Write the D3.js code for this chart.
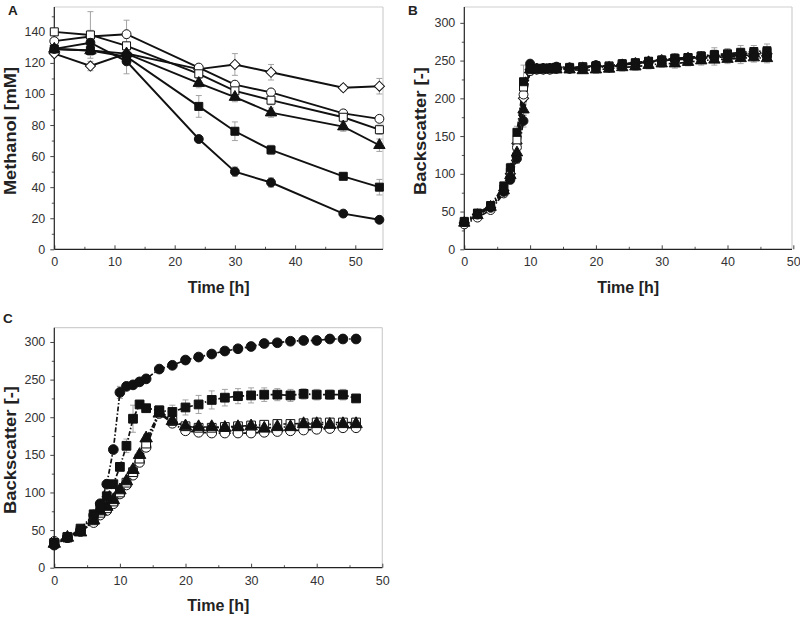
<!DOCTYPE html>
<html><head><meta charset="utf-8">
<script src="https://cdn.jsdelivr.net/npm/d3@7"></script>
<style>body{margin:0;background:#fff}svg{font-family:"Liberation Sans",Arial,sans-serif}</style>
</head><body>
<svg id="chart" width="800" height="618"></svg>
<script>
// ---------- Panel A : methanol ----------
const timeA = [0, 6, 12, 24, 30, 36, 48, 54];
const aOpenDiamond   = [126, 118, 126, 116, 119, 114, 104, 105];
const aOpenCircle    = [134, 137, 138.5, 117, 106, 101, 87.5, 84];
const aOpenSquare    = [140, 138, 131, 113, 102, 96, 85, 77];
const aFilledTriangle= [129, 128, 126, 107, 98, 88, 79, 67];
const aFilledSquare  = [129, 128, 124, 92, 76, 64, 47, 40];
const aFilledCircle  = [129, 133, 121, 71, 50, 43, 23, 19];
const errAOpenDiamond   = [2, 3, 3, 2, 7, 5, 2, 5];
const errAOpenCircle    = [2, 4, 9, 2, 2, 2, 2, 2];
const errAOpenSquare    = [2, 15, 5, 3, 3, 3, 3, 3];
const errAFilledTriangle= [2, 3, 3, 3, 3, 3, 3, 4];
const errAFilledSquare  = [2, 3, 4, 7, 6, 3, 2, 5];
const errAFilledCircle  = [2, 3, 8, 2, 3, 3, 2, 1.5];

// ---------- Panel B : backscatter ----------
const timeB = [0,2,4,6,7,8,9,10,11,12,13,14,16,18,20,22,24,26,28,30,32,34,36,38,40,42,44,46];
const bOpenDiamond   = [35,46,55,78,100,140,200,238,239,239,239,240,240,241,243,242,245,247,249,251,252,254,255,256,257,258,259,259];
const bOpenCircle    = [33,42,52,74,95,135,205,236,238,238,238,239,239,240,242,241,244,246,248,250,251,252,253,254,255,255,256,255];
const bOpenSquare    = [36,47,57,80,102,145,215,238,239,240,240,241,241,242,243,243,246,247,249,251,253,254,256,257,258,259,260,261];
const bFilledTriangle= [35,45,56,78,98,128,185,238,238,238,238,238,238,237,238,239,241,242,244,246,246,248,250,251,252,253,254,253];
const bFilledSquare  = [37,48,58,84,108,155,222,240,239,239,240,241,240,241,243,242,245,247,249,250,253,254,256,258,259,261,262,263];
const bFilledCircle  = [36,46,55,76,92,120,170,246,240,240,240,242,241,240,244,241,245,246,248,250,251,253,254,255,256,257,257,256];
const errBOpenDiamond   = [3,3,3,4,5,6,8,5,4,4,4,4,4,4,5,4,4,4,4,5,5,5,5,6,6,6,6,6];
const errBOpenCircle    = [3,3,3,4,5,6,8,5,4,4,4,4,4,4,5,4,4,4,4,5,5,5,5,6,6,6,6,6];
const errBOpenSquare    = [3,3,3,4,5,8,10,6,4,4,4,4,4,4,5,4,5,4,5,5,6,5,6,7,6,7,7,7];
const errBFilledTriangle= [3,3,3,4,5,6,8,5,4,4,4,4,4,4,5,4,5,5,5,5,6,5,6,7,6,7,6,6];
const errBFilledSquare  = [3,3,3,4,6,8,22,6,4,4,4,4,4,4,5,4,5,4,5,5,6,5,6,9,7,9,8,9];
const errBFilledCircle  = [3,3,3,4,5,6,8,4,4,4,4,4,4,4,5,4,4,4,4,5,5,5,5,6,6,6,6,6];

// ---------- Panel C : backscatter ----------
const timeC = [0,2,4,6,7,8,9,10,11,12,13,14,16,18,20,22,24,26,28,30,32,34,36,38,40,42,44,46];
const cOpenCircle    = [35,40,48,60,70,76,85,98,110,123,140,160,205,192,182,180,179,179,179,179,180,181,182,183,184,185,186,186];
const cOpenSquare    = [33,41,49,63,73,79,88,100,113,127,145,165,209,195,188,186,186,187,188,189,190,191,191,192,193,193,193,193];
const cFilledTriangle= [32,40,47,63,75,81,90,103,115,130,150,172,205,195,188,187,187,186,187,188,185,187,187,191,191,190,191,191];
const cFilledSquare  = [32,40,52,71,81,95,111,134,162,198,217,212,209,207,213,217,223,226,228,229,230,230,229,231,230,230,230,225];
const cFilledCircle  = [30,40,50,70,85,111,157,233,241,243,247,251,264,269,276,280,284,288,291,294,298,299,301,302,302,304,304,304];
const errCOpenCircle    = [3,3,3,3,3,3,4,4,4,5,5,5,4,4,4,4,4,4,4,4,4,4,4,4,4,4,4,4];
const errCOpenSquare    = [3,3,3,3,3,3,4,4,4,5,5,5,4,4,4,4,4,4,4,4,5,4,4,4,4,4,4,4];
const errCFilledTriangle= [3,3,3,3,3,3,4,4,4,5,5,5,4,4,4,4,4,4,4,5,8,5,4,4,4,4,4,4];
const errCFilledSquare  = [3,3,3,3,3,3,4,5,9,18,5,4,4,9,10,12,12,11,10,10,9,8,8,7,7,6,7,3];
const errCFilledCircle  = [3,3,3,3,3,3,3,8,3,3,3,3,3,3,3,3,3,3,3,3,3,3,3,3,3,3,3,3];

// tick labels
const ticksXA = [0, 10, 20, 30, 40, 50];
const minorXA = [5, 15, 25, 35, 45];
const ticksYA = [0, 20, 40, 60, 80, 100, 120, 140];
const minorYA = [10, 30, 50, 70, 90, 110, 130, 150];
const ticksXB = [0, 10, 20, 30, 40, 50];
const minorXB = [5, 15, 25, 35, 45];
const ticksYB = [0, 50, 100, 150, 200, 250, 300];
const minorYB = [25, 75, 125, 175, 225, 275];

const svg = d3.select("#chart");

const sym = {
  circle:   {type: d3.symbolCircle,   size: 62, rot: 0},
  square:   {type: d3.symbolSquare,   size: 64, rot: 0},
  triangle: {type: d3.symbolTriangle, size: 56, rot: 0},
  diamond:  {type: d3.symbolSquare,   size: 52, rot: 45}
};

function panel(cfg) {
  const g = svg.append("g");
  const x = d3.scaleLinear().domain(cfg.xDomain).range([cfg.left, cfg.right]);
  const y = d3.scaleLinear().domain(cfg.yDomain).range([cfg.bottom, cfg.top]);

  g.append("line").attr("x1", cfg.left).attr("x2", cfg.right).attr("y1", cfg.top).attr("y2", cfg.top)
    .attr("stroke", "#cfcfcf").attr("stroke-width", 1.2);
  g.append("line").attr("x1", cfg.right).attr("x2", cfg.right).attr("y1", cfg.top).attr("y2", cfg.bottom)
    .attr("stroke", "#cfcfcf").attr("stroke-width", 1.2);

  g.append("g").attr("transform", `translate(0,${cfg.bottom})`)
    .call(d3.axisBottom(x).tickValues(cfg.minorX).tickSizeInner(-2.5).tickSizeOuter(0).tickFormat(""))
    .call(a => a.select(".domain").remove())
    .call(a => a.selectAll("line").attr("stroke", "#555"));
  g.append("g").attr("transform", `translate(${cfg.left},0)`)
    .call(d3.axisLeft(y).tickValues(cfg.minorY.filter(v => v <= cfg.yDomain[1])).tickSizeInner(2.5).tickSizeOuter(0).tickFormat(""))
    .call(a => a.select(".domain").remove())
    .call(a => a.selectAll("line").attr("stroke", "#555"));

  const ax = g.append("g").attr("transform", `translate(0,${cfg.bottom})`)
    .call(d3.axisBottom(x).tickValues(cfg.ticksX).tickSizeInner(-4).tickSizeOuter(0).tickPadding(8));
  const ay = g.append("g").attr("transform", `translate(${cfg.left},0)`)
    .call(d3.axisLeft(y).tickValues(cfg.ticksY).tickSizeInner(4).tickSizeOuter(0).tickPadding(5));
  [ax, ay].forEach(a => {
    a.select(".domain").attr("stroke", "#222").attr("stroke-width", 1.2);
    a.selectAll(".tick line").attr("stroke", "#444");
    a.selectAll(".tick text").attr("fill", "#333").style("font-size", "12.5px")
      .style("font-family", '"Liberation Sans",Arial,sans-serif');
  });
  ax.select(".domain").attr("d", `M${cfg.left},0H${cfg.right}`);
  ay.select(".domain").attr("d", `M0,${cfg.bottom}V${cfg.top}`);

  g.append("text").attr("x", (cfg.left + cfg.right) / 2).attr("y", cfg.xTitleY)
    .attr("text-anchor", "middle").attr("font-weight", "bold").attr("font-size", 16).attr("fill", "#222")
    .text(cfg.xTitle);
  g.append("text").attr("transform", `translate(${cfg.yTitleX},${cfg.yTitleMid}) rotate(-90)`)
    .attr("text-anchor", "middle").attr("font-weight", "bold").attr("font-size", 16.5).attr("fill", "#222")
    .attr("textLength", cfg.yTitleLen).attr("lengthAdjust", "spacingAndGlyphs")
    .text(cfg.yTitle);
  g.append("text").attr("x", cfg.letterX).attr("y", cfg.letterY)
    .attr("font-weight", "bold").attr("font-size", 13.5).attr("fill", "#222").text(cfg.letter);

  cfg.series.forEach(s => {
    const eg = g.append("g").attr("stroke", "#9a9a9a").attr("stroke-width", 0.9);
    cfg.times.forEach((t, i) => {
      const v = s.values[i], e = s.err[i];
      const cx = x(t);
      eg.append("line").attr("x1", cx).attr("x2", cx).attr("y1", y(v - e)).attr("y2", y(v + e));
      eg.append("line").attr("x1", cx - 3).attr("x2", cx + 3).attr("y1", y(v + e)).attr("y2", y(v + e));
      eg.append("line").attr("x1", cx - 3).attr("x2", cx + 3).attr("y1", y(v - e)).attr("y2", y(v - e));
    });
  });

  const line = d3.line().x((d, i) => x(cfg.times[i])).y(d => y(d));
  cfg.series.forEach(s => {
    g.append("path").datum(s.values).attr("d", line).attr("fill", "none")
      .attr("stroke", "#111").attr("stroke-width", cfg.lineWidth)
      .attr("stroke-dasharray", cfg.dash || null);
  });
  cfg.series.forEach(s => {
    const m = sym[s.marker];
    const path = d3.symbol().type(m.type).size(m.size * (cfg.markerScale || 1))();
    g.append("g").selectAll("path").data(s.values).join("path")
      .attr("d", path)
      .attr("transform", (d, i) => `translate(${x(cfg.times[i])},${y(d)}) rotate(${m.rot})`)
      .attr("fill", s.filled ? "#111" : "#fff")
      .attr("stroke", "#111").attr("stroke-width", 1);
  });
}

panel({
  letter: "A", letterX: 8, letterY: 15,
  left: 54.3, right: 383, top: 7, bottom: 249.3,
  xDomain: [0, 54.6], yDomain: [0, 156],
  ticksX: ticksXA, minorX: minorXA, ticksY: ticksYA, minorY: minorYA,
  xTitle: "Time [h]", xTitleY: 293, yTitle: "Methanol [mM]", yTitleX: 15.5, yTitleMid: 131, yTitleLen: 128,
  times: timeA, lineWidth: 1.9,
  series: [
    {values: aOpenDiamond, err: errAOpenDiamond, marker: "diamond", filled: false},
    {values: aOpenCircle, err: errAOpenCircle, marker: "circle", filled: false},
    {values: aOpenSquare, err: errAOpenSquare, marker: "square", filled: false},
    {values: aFilledTriangle, err: errAFilledTriangle, marker: "triangle", filled: true},
    {values: aFilledSquare, err: errAFilledSquare, marker: "square", filled: true},
    {values: aFilledCircle, err: errAFilledCircle, marker: "circle", filled: true}
  ]
});

panel({
  letter: "B", letterX: 408, letterY: 15,
  left: 464.3, right: 792, top: 7, bottom: 249.3,
  xDomain: [0, 49.8], yDomain: [0, 321],
  ticksX: ticksXB, minorX: minorXB, ticksY: ticksYB, minorY: minorYB,
  xTitle: "Time [h]", xTitleY: 293, yTitle: "Backscatter [-]", yTitleX: 425.5, yTitleMid: 131, yTitleLen: 128,
  times: timeB, lineWidth: 1.7, dash: "5,2,1.5,2",
  series: [
    {values: bOpenDiamond, err: errBOpenDiamond, marker: "diamond", filled: false},
    {values: bOpenCircle, err: errBOpenCircle, marker: "circle", filled: false},
    {values: bOpenSquare, err: errBOpenSquare, marker: "square", filled: false},
    {values: bFilledCircle, err: errBFilledCircle, marker: "circle", filled: true},
    {values: bFilledSquare, err: errBFilledSquare, marker: "square", filled: true},
    {values: bFilledTriangle, err: errBFilledTriangle, marker: "triangle", filled: true}
  ]
});

panel({
  letter: "C", letterX: 3, letterY: 323,
  left: 54.3, right: 382.3, top: 327.7, bottom: 567.7,
  xDomain: [0, 50], yDomain: [0, 319],
  ticksX: ticksXB, minorX: minorXB, ticksY: ticksYB, minorY: minorYB,
  xTitle: "Time [h]", xTitleY: 611, yTitle: "Backscatter [-]", yTitleX: 15.5, yTitleMid: 450, yTitleLen: 128,
  times: timeC, lineWidth: 1.7, dash: "5,2,1.5,2", markerScale: 1.2,
  series: [
    {values: cOpenCircle, err: errCOpenCircle, marker: "circle", filled: false},
    {values: cOpenSquare, err: errCOpenSquare, marker: "square", filled: false},
    {values: cFilledTriangle, err: errCFilledTriangle, marker: "triangle", filled: true},
    {values: cFilledSquare, err: errCFilledSquare, marker: "square", filled: true},
    {values: cFilledCircle, err: errCFilledCircle, marker: "circle", filled: true}
  ]
});
</script>
</body></html>
